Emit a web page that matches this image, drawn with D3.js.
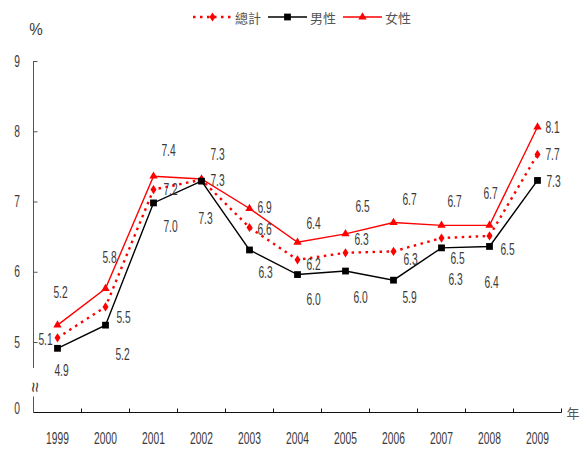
<!DOCTYPE html>
<html>
  <head>
    <meta charset="utf-8">
    <script src="https://d3js.org/d3.v7.min.js"></script>
    <style>
      body { margin: 0px; background: #fff; }
      .num {
        fill: #3a3a3a;
        font-family: "Liberation Sans", Arial, sans-serif;
        font-size: 16px;
      }
      .legend-text {
        fill: #555;
        font-family: "Noto Sans CJK TC", sans-serif;
        font-size: 13px;
      }
    </style>
  </head>
  <body>
    <div id="chart"></div>
    <script>
      // values
      const years = ['1999', '2000', '2001', '2002', '2003', '2004', '2005', '2006', '2007', '2008', '2009'];
      const totalRate  = [5.06, 5.50, 7.17, 7.31, 6.63, 6.17, 6.27, 6.29, 6.48, 6.51, 7.67];
      const maleRate   = [4.91, 5.24, 6.98, 7.29, 6.31, 5.96, 6.01, 5.88, 6.34, 6.36, 7.30];
      const femaleRate = [5.24, 5.76, 7.36, 7.32, 6.90, 6.42, 6.54, 6.70, 6.66, 6.66, 8.06];
      const yTicks = [5, 6, 7, 8, 9];

      // label nudges (px from the marker), placed by hand like the original
      const totalNudge  = [[-12, 2], [18, 11], [17, 0], [16, 1], [15, 2], [16, 5], [16, -13], [17, 8], [16, 20], [18, 13], [15, 0]];
      const maleNudge   = [[4, 22], [17, 29], [17, 23], [4, 37], [16, 22], [16, 25], [15, 26], [16, 17], [14, 32], [2, 36], [16, 1]];
      const femaleNudge = [[3, -33], [4, -31], [15, -26], [16, -25], [15, -1], [16, -19], [17, -27], [16, -23], [13, -24], [1, -32], [15, 0]];

      const width = 587, height = 450;
      const svg = d3.select('#chart').append('svg')
        .attr('width', width)
        .attr('height', height);

      // condensed look: squeeze text horizontally
      const squeeze = 0.64;
      const numText = (parent, px, py, str, sx) => parent.append('text')
        .attr('class', 'num')
        .attr('transform', `translate(${px},${py}) scale(${sx || squeeze},1)`)
        .attr('text-anchor', 'middle')
        .attr('dy', '0.35em')
        .text(str);

      const axisX = 33.5, baseY = 412.5;

      const x = d3.scaleBand().domain(years).range([axisX, 561.5]);
      const y = d3.scaleLinear().domain([5, 9]).range([342, 61]);
      const cx = d => x(d) + x.bandwidth() / 2;

      // y axis (upper part)
      const yAxisG = svg.append('g').attr('transform', `translate(${axisX},0)`);
      yAxisG.call(d3.axisLeft(y).tickValues(yTicks).tickSizeInner(-4).tickSizeOuter(0).tickFormat(''));
      yAxisG.select('.domain').remove();
      yAxisG.selectAll('.tick line').attr('stroke', '#555');
      yAxisG.append('line')
        .attr('y1', y(9)).attr('y2', y(4.63))
        .attr('stroke', '#555');
      yTicks.forEach(t => numText(svg, 17, y(t), d3.format('d')(t)));

      // broken axis part
      yAxisG.append('line')
        .attr('y1', 396.5).attr('y2', baseY)
        .attr('stroke', '#555');
      svg.append('text')
        .attr('class', 'num')
        .attr('transform', `translate(${axisX + 1},387) rotate(-90)`)
        .attr('text-anchor', 'middle')
        .attr('dy', '0.35em')
        .style('font-size', '18px')
        .text('≈');
      numText(svg, 17, 408, '0');
      numText(svg, 36, 29, '%', 0.95);

      // x axis
      const xAxisG = svg.append('g');
      xAxisG.append('line')
        .attr('x1', axisX).attr('x2', x.range()[1])
        .attr('y1', baseY).attr('y2', baseY)
        .attr('stroke', '#111');
      const bounds = years.slice(1).map(d => x(d)).concat([x.range()[1]]);
      xAxisG.selectAll('.xtick').data(bounds).enter().append('line')
        .attr('x1', d => d).attr('x2', d => d)
        .attr('y1', baseY).attr('y2', baseY - 4)
        .attr('stroke', '#111');
      years.forEach(d => numText(xAxisG, cx(d), baseY + 25.5, d));
      svg.append('text')
        .attr('class', 'legend-text')
        .attr('x', 573).attr('y', 413)
        .attr('dy', '0.35em')
        .attr('text-anchor', 'middle')
        .text('年');

      const diamond = 'M0,-4.6L3,0L0,4.6L-3,0Z';
      const square = d3.symbol(d3.symbolSquare, 46)();
      const triangle = d3.symbol(d3.symbolTriangle, 30)();

      const series = [
        { name: '女性', values: femaleRate, nudge: femaleNudge, color: '#ff0000', dash: null, width: 1.4, marker: triangle },
        { name: '總計', values: totalRate, nudge: totalNudge, color: '#ff0000', dash: '2.5,4.5', width: 2.4, marker: diamond },
        { name: '男性', values: maleRate, nudge: maleNudge, color: '#000000', dash: null, width: 1.4, marker: square }
      ];

      const line = d3.line().x((d, i) => cx(years[i])).y(d => y(d));

      series.forEach(s => {
        const g = svg.append('g');
        g.append('path')
          .datum(s.values)
          .attr('d', line)
          .attr('fill', 'none')
          .attr('stroke', s.color)
          .attr('stroke-width', s.width)
          .attr('stroke-dasharray', s.dash);
        g.selectAll('.m').data(s.values).enter().append('path')
          .attr('d', s.marker)
          .attr('transform', (d, i) => `translate(${cx(years[i])},${y(d)})`)
          .attr('fill', s.color);
      });

      // data labels
      series.forEach(s => {
        const lg = svg.append('g');
        s.values.forEach((d, i) => {
          numText(lg, cx(years[i]) + s.nudge[i][0], y(d) + s.nudge[i][1], d3.format('.1f')(d));
        });
      });

      // legend
      const legendOrder = [series[1], series[2], series[0]];
      const legendX = [193, 268, 343];
      const legend = svg.append('g');
      legendOrder.forEach((s, i) => {
        const lg = legend.append('g').attr('transform', `translate(${legendX[i]},17)`);
        lg.append('line')
          .attr('x1', 0).attr('x2', 39)
          .attr('stroke', s.color)
          .attr('stroke-width', s.width)
          .attr('stroke-dasharray', s.dash);
        lg.append('path')
          .attr('d', s.marker)
          .attr('transform', 'translate(19.5,0)')
          .attr('fill', s.color);
        lg.append('text')
          .attr('class', 'legend-text')
          .attr('x', 42).attr('y', 1)
          .attr('dy', '0.35em')
          .text(s.name);
      });
    </script>
  </body>
</html>
